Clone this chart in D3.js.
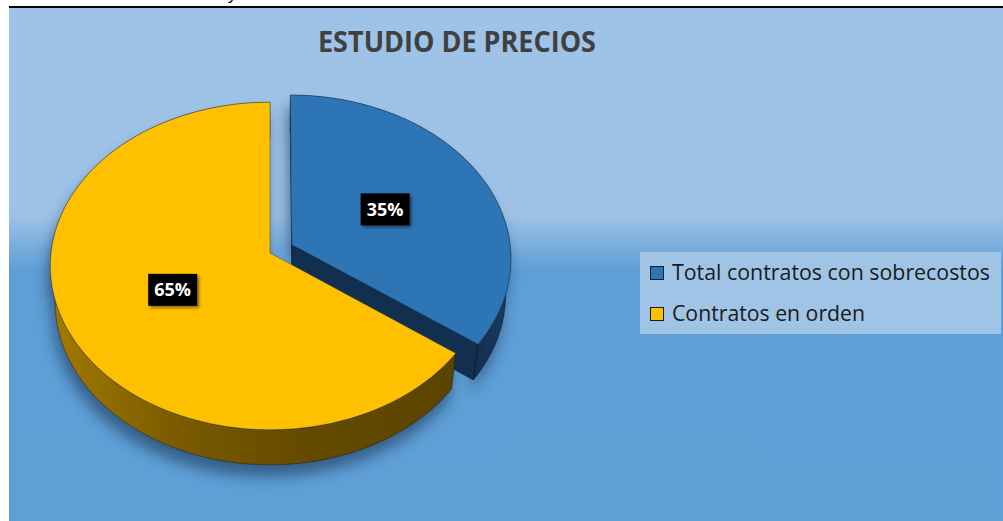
<!DOCTYPE html>
<html>
<head>
<meta charset="utf-8">
<script src="https://cdn.jsdelivr.net/npm/d3@7/dist/d3.min.js"></script>
<style>
  html, body { margin: 0; padding: 0; background: #fff; }
  svg { display: block; }
</style>
</head>
<body>
<div id="chart"></div>
<script>
// datos del grafico
var titleText = "ESTUDIO DE PRECIOS";
var sliceNames = ["Total contratos con sobrecostos", "Contratos en orden"];
var sliceValues = [35, 65];
var sliceLabels = ["35%", "65%"];

var width = 1003, height = 521;
var topColors = ["#2E75B6", "#FFC000"];

// camara para el pastel 3D (perspectiva tipo Excel)
var cam = { cx: 270, cy: 253, f: 1848, D: 8.44, tilt: 48 * Math.PI / 180 };
var sinT = Math.sin(cam.tilt), cosT = Math.cos(cam.tilt);
var depth = 0.253;        // grosor del pastel
var explode = [0.113, 0]; // separacion de cada porcion
var labelR = 0.49;

function proj(X, Y, Z) {
	var up = Y * cosT - Z * sinT;
	var dist = cam.D - Y * sinT - Z * cosT;
	return [cam.cx + cam.f * X / dist, cam.cy - cam.f * up / dist];
}

var svg = d3.select("#chart").append("svg").attr("width", width).attr("height", height);
var defs = svg.append("defs");

var bg = defs.append("linearGradient").attr("id", "bg").attr("x1", 0).attr("y1", 0).attr("x2", 0).attr("y2", 1);
bg.append("stop").attr("offset", "0%").attr("stop-color", "#9EC3E7");
bg.append("stop").attr("offset", "40.5%").attr("stop-color", "#9DC2E6");
bg.append("stop").attr("offset", "51%").attr("stop-color", "#5F9ED6");
bg.append("stop").attr("offset", "100%").attr("stop-color", "#5F9FD6");

var yWall = defs.append("linearGradient").attr("id", "yWall").attr("gradientUnits", "userSpaceOnUse")
	.attr("x1", 50).attr("y1", 0).attr("x2", 470).attr("y2", 0);
yWall.append("stop").attr("offset", "0%").attr("stop-color", "#A37A00");
yWall.append("stop").attr("offset", "30%").attr("stop-color", "#7A5B00");
yWall.append("stop").attr("offset", "60%").attr("stop-color", "#654B00");
yWall.append("stop").attr("offset", "100%").attr("stop-color", "#5A4300");

var bWall = defs.append("linearGradient").attr("id", "bWall").attr("gradientUnits", "userSpaceOnUse")
	.attr("x1", 470).attr("y1", 0).attr("x2", 512).attr("y2", 0);
bWall.append("stop").attr("offset", "0%").attr("stop-color", "#132E4D");
bWall.append("stop").attr("offset", "100%").attr("stop-color", "#1A3C63");

var wallFill = ["url(#bWall)", "url(#yWall)"];

defs.append("filter").attr("id", "blur").attr("x", "-20%").attr("y", "-20%").attr("width", "140%").attr("height", "140%")
	.append("feGaussianBlur").attr("stdDeviation", 7);

var lblShadow = defs.append("filter").attr("id", "lblShadow").attr("x", "-30%").attr("y", "-30%").attr("width", "160%").attr("height", "160%");
lblShadow.append("feDropShadow").attr("dx", 2).attr("dy", 2).attr("stdDeviation", 1.5)
	.attr("flood-color", "#000").attr("flood-opacity", 0.45);

// fondo
svg.append("rect").attr("x", 9).attr("y", 8).attr("width", width - 9).attr("height", height - 8).attr("fill", "url(#bg)");
svg.append("rect").attr("x", 9).attr("y", 6).attr("width", width - 9).attr("height", 2).attr("fill", "#000");
svg.append("text").attr("x", 228).attr("y", -1).attr("font-family", "Open Sans").attr("font-size", 18).attr("fill", "#000").text("y");

// titulo
svg.append("text")
	.attr("x", 457).attr("y", 52)
	.attr("text-anchor", "middle")
	.attr("font-family", "Open Sans").attr("font-weight", "bold").attr("font-size", 29)
	.attr("fill", "#404040")
	.attr("textLength", 278).attr("lengthAdjust", "spacingAndGlyphs")
	.text(titleText);

var pie = d3.pie().sort(null).startAngle(0).endAngle(2 * Math.PI);
var arcs = pie(sliceValues);

function offset(d, i) {
	var mid = (d.startAngle + d.endAngle) / 2;
	return [explode[i] * Math.sin(mid), -explode[i] * Math.cos(mid)];
}
function rimPt(i, d, t, Y, r) {
	var o = offset(d, i);
	return proj(o[0] + r * Math.sin(t), Y, o[1] - r * Math.cos(t));
}
function arcPts(i, d, a0, a1, Y) {
	var n = Math.max(2, Math.ceil(Math.abs(a1 - a0) / (Math.PI / 180)) + 1);
	var pts = [];
	for (var k = 0; k < n; k++) {
		var t = a0 + (a1 - a0) * k / (n - 1);
		pts.push(rimPt(i, d, t, Y, 1));
	}
	return pts;
}
var line = d3.line();

function topPath(d, i) {
	return line([rimPt(i, d, 0, 0, 0)].concat(arcPts(i, d, d.startAngle, d.endAngle, 0))) + "Z";
}
function wallPath(d, i) {
	return line(arcPts(i, d, d.startAngle, d.endAngle, 0).concat(arcPts(i, d, d.endAngle, d.startAngle, -depth))) + "Z";
}
function facePath(d, i, a) {
	return line([rimPt(i, d, a, 0, 0), rimPt(i, d, a, 0, 1), rimPt(i, d, a, -depth, 1), rimPt(i, d, a, -depth, 0)]) + "Z";
}

// sombra
var shadow = svg.append("g").attr("transform", "translate(-3,12)").attr("filter", "url(#blur)").attr("opacity", 0.62);
arcs.forEach(function(d, i) {
	shadow.append("path").attr("d", wallPath(d, i)).attr("fill", "#1B3A5C");
	shadow.append("path").attr("d", topPath(d, i)).attr("fill", "#1B3A5C");
});

var pieG = svg.append("g");
arcs.forEach(function(d, i) {
	var g = pieG.append("g").attr("class", "slice");
	g.append("path").attr("d", wallPath(d, i)).attr("fill", wallFill[i])
		.attr("stroke", "#000").attr("stroke-opacity", 0.5).attr("stroke-width", 0.7);
	if (i == 0) {
		g.append("path").attr("d", facePath(d, i, d.startAngle)).attr("fill", "#12294A");
		g.append("path").attr("d", facePath(d, i, d.endAngle)).attr("fill", "#132F4F")
			.attr("stroke", "#000").attr("stroke-opacity", 0.5).attr("stroke-width", 0.7);
	}
	g.append("path").attr("d", topPath(d, i)).attr("fill", topColors[i])
		.attr("stroke", "#1F3550").attr("stroke-opacity", 0.5).attr("stroke-width", 0.8);
});

// etiquetas
arcs.forEach(function(d, i) {
	var mid = (d.startAngle + d.endAngle) / 2;
	var p = rimPt(i, d, mid, 0, labelR);
	svg.append("rect").attr("x", p[0] - 24.5).attr("y", p[1] - 16).attr("width", 49).attr("height", 32)
		.attr("fill", "#000").attr("filter", "url(#lblShadow)");
	svg.append("text").attr("x", p[0]).attr("y", p[1] + 6.5)
		.attr("text-anchor", "middle")
		.attr("font-family", "Open Sans").attr("font-weight", "bold").attr("font-size", 18)
		.attr("fill", "#fff")
		.text(sliceLabels[i]);
});

// leyenda
var legend = svg.append("g").attr("transform", "translate(640,252)");
legend.append("rect").attr("width", 361).attr("height", 82).attr("fill", "#A0C4E6");
var legY = d3.scalePoint().domain(sliceNames).range([22, 63]);
var legLen = [318, 193];
sliceNames.forEach(function(name, i) {
	legend.append("rect").attr("x", 10.5).attr("y", legY(name) - 7.5).attr("width", 13).attr("height", 13)
		.attr("fill", topColors[i]).attr("stroke", "#1a1a1a").attr("stroke-width", 1);
	legend.append("text").attr("x", 32).attr("y", legY(name) + 6)
		.attr("font-family", "Open Sans").attr("font-size", 21).attr("fill", "#1a1a1a")
		.attr("textLength", legLen[i]).attr("lengthAdjust", "spacingAndGlyphs")
		.text(name);
});
</script>
</body>
</html>
